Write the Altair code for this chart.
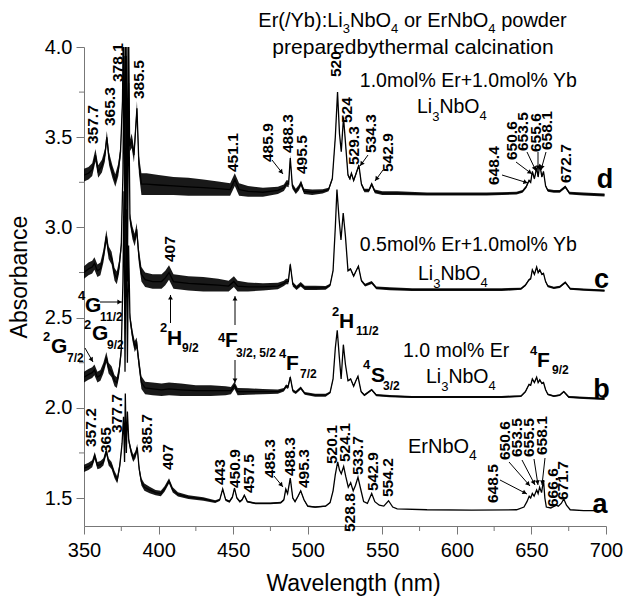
import math
import altair as alt
import pandas as pd

FONT = "Liberation Sans"
XMIN, XMAX = 350.0, 700.0
YMIN, YMAX = 1.345, 4.0
W, H = 522, 479
PADL, PADT = 84, 47


def nm_of(px):
    return XMIN + (px - PADL) * (XMAX - XMIN) / W


def ab_of(py):
    return YMAX - (py - PADT) * (YMAX - YMIN) / H


# ---------------- spectra (wavelength, absorbance, noise half-width) ----------------
d_nm = [350, 353, 355.5, 357.7, 359.5, 362, 364, 365.3, 366.8, 369, 371, 373, 374.5, 375.8, 376.6, 377.3, 378.1, 378.9,
        379.7, 380.6, 382, 383.5, 385.5, 386.8, 388.5, 392, 400, 410, 420, 430, 440, 448, 451.1, 454, 460, 470, 480, 484,
        485.9, 487.2, 488.3, 489.7, 492, 494, 495.5, 497.5, 503, 510, 514, 516.5, 518.5, 520, 521.3, 522.5, 524, 525.5,
        527, 528.3, 529.3, 530.8, 532.5, 534.3, 536, 538, 541, 542.9, 545, 550, 560, 580, 600, 620, 640, 644, 646.5,
        648.4, 649.5, 650.6, 652, 653.5, 654.5, 655.6, 657, 658.1, 659.5, 661, 665, 669, 672.7, 675.5, 685, 699]
d_val = [3.29, 3.30, 3.32, 3.40, 3.31, 3.34, 3.40, 3.50, 3.38, 3.31, 3.26, 3.32, 3.42, 3.70, 4.30, 3.10, 4.30, 3.00,
         4.30, 3.45, 3.48, 3.40, 3.66, 3.35, 3.24, 3.24, 3.235, 3.23, 3.225, 3.22, 3.215, 3.21, 3.265, 3.21, 3.20, 3.195,
         3.205, 3.22, 3.245, 3.24, 3.385, 3.23, 3.20, 3.22, 3.245, 3.20, 3.195, 3.20, 3.21, 3.27, 3.50, 3.75, 3.52, 3.42,
         3.61, 3.45, 3.29, 3.27, 3.30, 3.26, 3.30, 3.345, 3.24, 3.205, 3.205, 3.24, 3.20, 3.19, 3.19, 3.185, 3.185, 3.185,
         3.19, 3.20, 3.225, 3.26, 3.25, 3.31, 3.27, 3.33, 3.28, 3.35, 3.28, 3.31, 3.23, 3.205, 3.20, 3.20, 3.225, 3.19,
         3.185, 3.18]
d_spr = [.035, .035, .035, .035, .035, .035, .035, .035, .035, .035, .035, .035, .035, .03, 0, 0, 0, 0,
         0, .03, .04, .04, .04, .05, .06, .06, .055, .05, .05, .045, .04, .035, .035, .035, .03, .025, .02, .018,
         .018, .018, .015, .015, .015, .015, .015, .015, .015, .012, .01, .008, .005, 0, 0, .005, 0, .005,
         .008, .008, .008, .008, .008, .008, .008, .01, .01, .01, .01, .01, .01, .008, .008, .008, .008, .008, .008,
         .006, .006, .006, .006, .006, .006, .006, .006, .006, .006, .008, .008, .008, .008, .008, .008, .008]

c_nm = [350, 353, 355.5, 357, 359, 361, 363, 365, 366.5, 368.5, 370.5, 372, 373.5, 375, 376.1, 376.8, 377.5, 378.3,
        379.1, 379.9, 380.8, 382.5, 384, 385.3, 386.8, 388.5, 391, 396, 402, 404.5, 407, 410, 420, 430, 440, 447, 450.5,
        453, 460, 470, 480, 484, 485.5, 487, 488.3, 490, 492.5, 495.3, 498, 505, 512, 515, 517, 518.5, 519.6, 521, 522.3,
        523.8, 525.3, 527, 528.7, 530.8, 532.5, 534, 536, 538.5, 542.9, 546, 555, 570, 600, 630, 643, 646, 648.4, 649.5,
        650.6, 652, 653.5, 654.5, 655.6, 657, 658.1, 659.5, 661, 665, 669, 672.7, 676, 685, 699]
c_val = [2.75, 2.77, 2.78, 2.80, 2.76, 2.77, 2.84, 2.95, 2.86, 2.83, 2.74, 2.72, 2.78, 2.90, 3.30, 3.95, 2.70, 3.95,
         2.70, 3.80, 3.05, 2.97, 2.93, 2.99, 2.84, 2.74, 2.71, 2.70, 2.70, 2.72, 2.75, 2.70, 2.69, 2.685, 2.68, 2.675,
         2.70, 2.675, 2.67, 2.67, 2.675, 2.69, 2.70, 2.70, 2.795, 2.685, 2.665, 2.685, 2.665, 2.665, 2.665, 2.68, 2.76,
         3.00, 3.21, 3.05, 2.93, 3.08, 2.95, 2.76, 2.77, 2.73, 2.76, 2.785, 2.705, 2.68, 2.695, 2.665, 2.66, 2.655, 2.655,
         2.655, 2.66, 2.68, 2.71, 2.715, 2.765, 2.74, 2.78, 2.75, 2.765, 2.74, 2.745, 2.70, 2.675, 2.665, 2.67, 2.695,
         2.66, 2.655, 2.65]
c_spr = [.035, .035, .035, .035, .035, .035, .035, .035, .035, .035, .035, .035, .035, .03, 0, 0, 0, 0,
         0, 0, .03, .035, .035, .035, .04, .04, .04, .04, .04, .04, .04, .04, .04, .04, .035, .03, .03,
         .03, .025, .02, .018, .015, .015, .015, .012, .012, .012, .012, .012, .012, .01, .008, .005, 0, 0, 0, 0,
         0, 0, .005, .005, .005, .005, .005, .006, .008, .008, .008, .008, .008, .008, .008, .006, .006, .005, .005,
         .005, .005, .005, .005, .005, .005, .005, .005, .006, .006, .006, .006, .006, .006, .006]

b_nm = [350, 353, 355.5, 357, 359, 361, 363, 365, 366.5, 368.5, 370.5, 372, 373.5, 375, 376.1, 376.8, 377.5, 378.3,
        379.1, 379.9, 380.8, 382.5, 384, 385.3, 386.8, 388.5, 391, 396, 402, 407, 415, 425, 435, 445, 448.5, 450.9, 453,
        460, 470, 480, 484, 485.5, 486.8, 488.3, 490, 492, 495.3, 498, 505, 512, 515, 517, 518.5, 519.8, 521.2, 522.4,
        523.9, 525.3, 527, 528.8, 530.8, 532.3, 533.7, 535.8, 538, 542.9, 546, 555, 570, 600, 630, 643, 646, 648.4,
        649.5, 650.6, 652, 653.5, 654.5, 655.6, 657, 658.1, 659.5, 661, 665, 669, 671.7, 675, 685, 699]
b_val = [2.17, 2.185, 2.195, 2.21, 2.17, 2.18, 2.22, 2.28, 2.22, 2.20, 2.15, 2.14, 2.20, 2.32, 2.70, 3.20, 2.20, 3.10,
         2.25, 2.90, 2.50, 2.40, 2.34, 2.36, 2.25, 2.14, 2.11, 2.105, 2.10, 2.105, 2.10, 2.095, 2.095, 2.095, 2.095,
         2.125, 2.09, 2.09, 2.09, 2.09, 2.10, 2.12, 2.115, 2.17, 2.095, 2.085, 2.11, 2.08, 2.07, 2.07, 2.085, 2.16, 2.33,
         2.43, 2.28, 2.16, 2.35, 2.24, 2.15, 2.16, 2.12, 2.15, 2.175, 2.09, 2.07, 2.10, 2.07, 2.065, 2.06, 2.06, 2.06,
         2.065, 2.09, 2.13, 2.125, 2.16, 2.14, 2.17, 2.14, 2.155, 2.135, 2.14, 2.10, 2.075, 2.065, 2.07, 2.09, 2.06,
         2.055, 2.05]
b_spr = [.03, .03, .03, .03, .03, .03, .03, .03, .03, .03, .03, .03, .03, .03, 0, 0, 0, 0,
         0, 0, .03, .03, .03, .03, .035, .035, .035, .035, .035, .035, .035, .03, .03, .025, .02, .02, .02,
         .018, .015, .012, .01, .01, .01, .01, .008, .008, .008, .008, .008, .008, .006, .004, 0, 0, 0, 0,
         0, 0, .004, .004, .004, .004, .004, .005, .006, .006, .006, .006, .006, .006, .006, .005, .005, .004,
         .004, .004, .004, .004, .004, .004, .004, .004, .004, .005, .005, .005, .005, .005, .006, .006]

a_nm = [350, 353, 355.5, 357.2, 359, 361, 363, 365, 366.5, 368.5, 370.5, 372.3, 374, 375.5, 376.5, 377.2, 377.7, 378.4,
        379.1, 380, 381.5, 383, 384.5, 385.7, 387, 388.5, 390.5, 394, 398, 401.5, 404, 407, 409.5, 413, 420, 430, 438,
        441, 443, 445, 447.5, 449.5, 450.9, 452.5, 454.5, 456, 457.5, 459.5, 465, 475, 482, 484, 485.3, 486.5, 488.3,
        490, 491.5, 493.5, 495.3, 497.5, 500, 505, 512, 515, 517, 518.5, 520.1, 521.3, 522.5, 524.1, 525.5, 527.2,
        528.8, 530.5, 532, 533.7, 535.5, 537.5, 540, 542.9, 545, 548, 551, 554.2, 557, 560, 580, 610, 640, 645, 647,
        648.5, 649.5, 650.6, 651.8, 653.5, 654.5, 655.5, 656.8, 658.1, 659, 660, 663, 666.6, 668, 670, 671.7, 673.5, 676,
        685, 699]
a_val = [1.665, 1.675, 1.69, 1.735, 1.68, 1.685, 1.70, 1.76, 1.70, 1.68, 1.63, 1.60, 1.68, 1.80, 1.95, 1.70, 2.08, 1.75,
         1.98, 1.82, 1.76, 1.72, 1.74, 1.78, 1.66, 1.59, 1.56, 1.545, 1.53, 1.525, 1.55, 1.595, 1.545, 1.52, 1.505,
         1.495, 1.48, 1.49, 1.55, 1.49, 1.48, 1.505, 1.555, 1.50, 1.48, 1.49, 1.515, 1.48, 1.47, 1.47, 1.475, 1.49,
         1.55, 1.525, 1.61, 1.50, 1.48, 1.51, 1.54, 1.49, 1.455, 1.45, 1.455, 1.475, 1.54, 1.63, 1.70, 1.655, 1.635,
         1.675, 1.62, 1.56, 1.585, 1.54, 1.57, 1.615, 1.55, 1.48, 1.47, 1.525, 1.48, 1.46, 1.455, 1.485, 1.45, 1.44,
         1.435, 1.433, 1.435, 1.45, 1.48, 1.51, 1.50, 1.525, 1.51, 1.545, 1.525, 1.56, 1.53, 1.60, 1.50, 1.45, 1.445,
         1.46, 1.455, 1.47, 1.495, 1.46, 1.435, 1.43, 1.43]
a_spr = [.02] * 13 + [.01, 0, 0, 0, 0, 0, .015, .02, .02, .02, .02, .02, .02, .02, .018, .015, .015, .015, .015, .015,
                      .012, .01, .01, .008, .006, .005, .006, .006, .006, .005, .006, .006, .005, .005, .005, .005,
                      .005, .005, .005, .004, .004, .003, .004, .004, .004, .004, .004, .004, .004, .003, .003, .002]
a_spr = a_spr + [0] * (len(a_nm) - len(a_spr))

# ---------------- annotation text ----------------
d_labels = [("357.7", 93, 144), ("365.3", 110, 126), ("378.1", 118, 82), ("385.5", 139, 99), ("451.1", 233, 172),
            ("485.9", 268, 162), ("488.3", 288, 153), ("495.5", 302, 174), ("520", 335.5, 77), ("524", 346.5, 123),
            ("529.3", 354, 165), ("534.3", 370.5, 153), ("542.9", 388, 172), ("648.4", 494, 185), ("650.6", 512, 160),
            ("653.5", 523, 151), ("655.6", 536, 152), ("658.1", 547, 150), ("672.7", 566, 183)]
c_labels = [("407", 170, 262)]
a_labels = [("357.2", 91, 447), ("365", 106.3, 453), ("377.7", 117, 433), ("385.7", 146.7, 453), ("407", 168.3, 470),
            ("443", 220, 485), ("450.9", 234.5, 488), ("457.5", 249, 493), ("485.3", 270.3, 478), ("488.3", 290, 476),
            ("495.3", 303.7, 488), ("520.1", 331.7, 464), ("524.1", 344.7, 462), ("533.7", 357.8, 475),
            ("528.8", 350, 532), ("542.9", 373.3, 491), ("554.2", 387.8, 497), ("648.5", 492.7, 503),
            ("650.6", 505, 460), ("653.5", 517, 457), ("655.5", 528.5, 457), ("658.1", 542, 455),
            ("666.6", 553.3, 507), ("671.7", 562.7, 500)]

arrows = [(272, 160, 283, 174), (368, 155, 360, 166), (383, 170, 375, 181), (502, 175, 528, 183),
          (516, 162, 532, 174), (527, 152, 536, 171), (538, 152, 538, 170), (546, 152, 541, 170),
          (274, 476, 283, 487), (500, 480, 527, 494), (509, 462, 530, 486), (522, 460, 535, 485),
          (534, 459, 538, 485), (545, 458, 542, 485),
          (100, 302, 122, 302), (85, 348, 93, 362), (170.5, 323, 170.5, 295), (235, 325, 235, 296),
          (235, 360, 235, 383)]

# transition labels: (text, left_px, baseline_py, size)
transitions = [("4", 78, 300, 13), ("G", 85, 312, 21), ("11/2", 100, 321, 12),
               ("2", 84, 329, 13), ("G", 92, 340, 21), ("9/2", 107, 349, 12),
               ("2", 43, 341, 13), ("G", 51, 353, 21), ("7/2", 67, 362, 12),
               ("2", 160, 332, 13), ("H", 167, 345, 21), ("9/2", 182, 352, 12),
               ("4", 218, 342, 13), ("F", 225, 347, 21), ("3/2, 5/2", 236, 357, 12),
               ("4", 279, 358, 13), ("F", 286, 370, 21), ("7/2", 300, 378, 12),
               ("2", 332, 316, 13), ("H", 339, 328, 21), ("11/2", 356, 335, 12),
               ("4", 363, 369, 13), ("S", 371, 382, 21), ("3/2", 383, 390, 12),
               ("4", 530, 355, 13), ("F", 537, 367, 21), ("9/2", 552, 374, 12)]

curve_letters = [("d", 605, 188), ("c", 601.5, 288), ("b", 601.5, 398), ("a", 600, 513)]

REG = {' ': 278, '%': 889, '(': 333, ')': 333, '+': 584, ',': 278, '.': 278, '/': 278, ':': 278,
       'E': 667, 'L': 556, 'N': 722, 'O': 778, 'Y': 667, 'a': 556, 'b': 556, 'c': 500, 'd': 556, 'e': 556,
       'h': 556, 'i': 222, 'l': 222, 'm': 833, 'n': 556, 'o': 556, 'p': 556, 'r': 333, 't': 278, 'w': 722,
       'y': 500}


def tw(s, size):
    return sum(REG.get(ch, 556) for ch in s) * size / 1000.0


def flow(parts, x, base, center=False):
    out = []
    total = sum(tw(t, s) for t, s, _ in parts)
    cur = x - total / 2 if center else x
    for t, s, dy in parts:
        lead = len(t) - len(t.lstrip(" "))
        start = cur + tw(" " * lead, s)
        out.append({"px": start, "py": base + dy, "text": t.strip(" "), "fs": s, "fw": "normal"})
        cur += tw(t, s)
    return out


pieces = []
pieces += flow([("Er(/Yb):Li", 20, 0), ("3", 13, 6), ("NbO", 20, 0), ("4", 13, 6), (" or ErNbO", 20, 0),
                ("4", 13, 6), (" powder", 20, 0)], 412.5, 27, center=True)
pieces += flow([("preparedbythermal calcination", 21, 0)], 413, 54, center=True)
pieces += flow([("1.0mol% Er+1.0mol% Yb", 19.5, 0)], 468.5, 87, center=True)
pieces += flow([("Li", 19.5, 0), ("3", 13, 8), ("NbO", 19.5, 0), ("4", 13, 7)], 417, 113)
pieces += flow([("0.5mol% Er+1.0mol% Yb", 19.5, 0)], 468.5, 251, center=True)
pieces += flow([("Li", 19.5, 0), ("3", 13, 8), ("NbO", 19.5, 0), ("4", 13, 7)], 418, 280)
pieces += flow([("1.0 mol% Er", 19.5, 0)], 403, 357)
pieces += flow([("Li", 19.5, 0), ("3", 13, 8), ("NbO", 19.5, 0), ("4", 13, 7)], 426, 383)
pieces += flow([("ErNbO", 20, 0), ("4", 14, 7)], 408, 453)
for t, x, y, s in transitions:
    pieces.append({"px": x, "py": y, "text": t, "fs": s, "fw": "bold"})

xs = alt.Scale(domain=[XMIN, XMAX], nice=False, zero=False)
ys = alt.Scale(domain=[YMIN, YMAX], nice=False, zero=False)

AX = "#777777"
xaxis = alt.Axis(values=list(range(350, 701, 50)), format="d", title="Wavelength (nm)", grid=False,
                 labelFontSize=20, labelColor="black", labelPadding=6, labelFlush=False, labelOverlap=False,
                 tickSize=8, tickColor=AX, domainColor=AX, titleFontSize=23, titleFontWeight="normal",
                 titleColor="black", titleX=269, titleY=64, titleBaseline="alphabetic", titleAlign="center")
yaxis = alt.Axis(values=[1.5, 2.0, 2.5, 3.0, 3.5, 4.0], format=".1f", title="Absorbance", grid=False,
                 labelFontSize=20, labelColor="black", labelPadding=4, labelOverlap=False,
                 tickSize=8, tickColor=AX, domainColor=AX, titleFontSize=23, titleFontWeight="normal",
                 titleColor="black", titleAngle=270, titleX=-64.5, titleY=229.5, titleBaseline="middle",
                 titleAlign="center")


def X(field):
    return alt.X(field, type="quantitative", scale=xs, axis=xaxis)


def Y(field):
    return alt.Y(field, type="quantitative", scale=ys, axis=yaxis)


rows = []
for name, nms, vals, sprs in [("a", a_nm, a_val, a_spr), ("b", b_nm, b_val, b_spr),
                              ("c", c_nm, c_val, c_spr), ("d", d_nm, d_val, d_spr)]:
    for n, v, s in zip(nms, vals, sprs):
        rows.append({"curve": name, "nm": n, "val": v, "lo": v - s, "hi": v + s})
spec = pd.DataFrame(rows)

band = alt.Chart(spec).mark_area(color="black", opacity=0.9, clip=True).encode(
    x=X("nm"), y=Y("lo"), y2="hi:Q", detail="curve:N")
line = alt.Chart(spec).mark_line(color="black", strokeWidth=1.3, clip=True).encode(
    x=X("nm"), y=Y("val"), detail="curve:N")

minor_x = pd.DataFrame({"nm": list(range(375, 700, 50))})
minor_y = pd.DataFrame({"ab": [1.75, 2.25, 2.75, 3.25, 3.75]})
mx = alt.Chart(minor_x).mark_rule(color=AX, strokeWidth=1).encode(
    x=X("nm"), y=alt.value(H), y2=alt.value(H + 5))
my = alt.Chart(minor_y).mark_rule(color=AX, strokeWidth=1).encode(
    y=Y("ab"), x=alt.value(0), x2=alt.value(-5))

layers = [band, line, mx, my]

# rotated peak labels
rot = pd.DataFrame([{"nm": nm_of(x), "ab": ab_of(y), "text": t} for t, x, y in d_labels + c_labels + a_labels])
layers.append(alt.Chart(rot).mark_text(angle=270, align="left", baseline="middle", fontSize=15.5, fontWeight="bold",
                                       font=FONT, color="black").encode(x=X("nm"), y=Y("ab"), text="text:N"))

# horizontal texts
pdf = pd.DataFrame(pieces)
pdf["nm"] = pdf["px"].map(nm_of)
pdf["ab"] = pdf["py"].map(ab_of)
for (fs, fw), g in pdf.groupby(["fs", "fw"]):
    layers.append(alt.Chart(g.drop(columns=["fs", "fw"])).mark_text(
        align="left", baseline="alphabetic", fontSize=float(fs), fontWeight=fw, font=FONT, color="black"
    ).encode(x=X("nm"), y=Y("ab"), text="text:N"))

cl = pd.DataFrame([{"nm": nm_of(x), "ab": ab_of(y), "text": t} for t, x, y in curve_letters])
layers.append(alt.Chart(cl).mark_text(align="center", baseline="alphabetic", fontSize=27, fontWeight="bold",
                                      font=FONT, color="black").encode(x=X("nm"), y=Y("ab"), text="text:N"))

# arrows
arow, hrow = [], []
for x1, y1, x2, y2 in arrows:
    arow.append({"nm": nm_of(x1), "ab": ab_of(y1), "nm2": nm_of(x2), "ab2": ab_of(y2)})
    dx, dy = x2 - x1, y2 - y1
    L = math.hypot(dx, dy)
    ux, uy = dx / L, dy / L
    ang = math.degrees(math.atan2(dx, -dy)) % 360
    hrow.append({"nm": nm_of(x2 - 2.5 * ux), "ab": ab_of(y2 - 2.5 * uy), "ang": ang})
adf = pd.DataFrame(arow)
hdf = pd.DataFrame(hrow)
layers.append(alt.Chart(adf).mark_rule(color="black", strokeWidth=1).encode(
    x=X("nm"), y=Y("ab"), x2="nm2:Q", y2="ab2:Q"))
layers.append(alt.Chart(hdf).mark_point(shape="triangle-up", filled=True, size=24, color="black", opacity=1,
                                        strokeWidth=0).encode(
    x=X("nm"), y=Y("ab"), angle=alt.Angle("ang:Q", scale=alt.Scale(domain=[0, 360], range=[0, 360]))))

chart = alt.layer(*layers).properties(
    width=W, height=H,
    padding={"left": PADL, "top": PADT, "right": 626 - PADL - W, "bottom": 601 - PADT - H},
    autosize=alt.AutoSizeParams(type="none"),
    background="white",
).configure_view(stroke=None).configure_axis(labelFont=FONT, titleFont=FONT)

chart.save("out.html", embed_options={"renderer": "svg", "actions": False})
